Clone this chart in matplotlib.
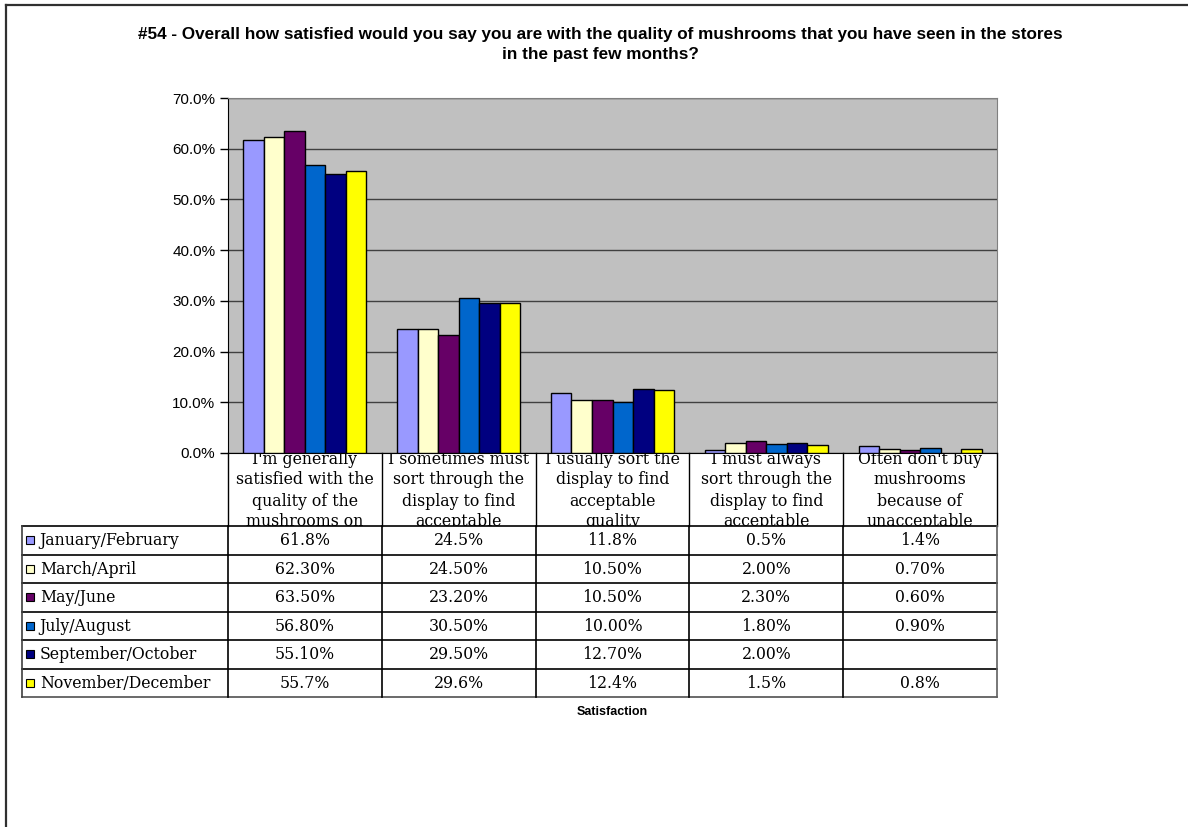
import numpy as np
import matplotlib
matplotlib.use('Agg')
from matplotlib import pyplot as plt
from matplotlib.lines import Line2D

# answer categories (only the part that fits in the header cells is shown)
categories = [
    ["I'm generally", "satisfied with the", "quality of the", "mushrooms on"],
    ["I sometimes must", "sort through the", "display to find", "acceptable"],
    ["I usually sort the", "display to find", "acceptable", "quality"],
    ["I must always", "sort through the", "display to find", "acceptable"],
    ["Often don't buy", "mushrooms", "because of", "unacceptable"],
]

periods = ["January/February", "March/April", "May/June",
           "July/August", "September/October", "November/December"]
colors = ["#9999FF", "#FFFFCC", "#660066", "#0066CC", "#000080", "#FFFF00"]

jan_feb = [61.8, 24.5, 11.8, 0.5, 1.4]
mar_apr = [62.3, 24.5, 10.5, 2.0, 0.7]
may_jun = [63.5, 23.2, 10.5, 2.3, 0.6]
jul_aug = [56.8, 30.5, 10.0, 1.8, 0.9]
sep_oct = [55.1, 29.5, 12.7, 2.0, np.nan]
nov_dec = [55.7, 29.6, 12.4, 1.5, 0.8]
decimals = [1, 2, 2, 2, 2, 1]

series = [jan_feb, mar_apr, may_jun, jul_aug, sep_oct, nov_dec]

W, H = 1188, 827
fig = plt.figure(figsize=(W / 100, H / 100), dpi=100)

serif = 'DejaVu Serif'
sans = 'Liberation Sans'
tab_fs = 11.3

# pixel layout
ax_l, ax_r, ax_t, ax_b = 228, 997, 98, 453
tab_l, head_b, tab_b = 22, 526, 697

def fx(px):
    return px / W

def fy(py):
    return 1 - py / H

# outer chart frame
fig.add_artist(Line2D([fx(6), fx(6)], [fy(5), 0], color='#303030', lw=1.6))
fig.add_artist(Line2D([fx(6), 1], [fy(5), fy(5)], color='#303030', lw=1.6))

fig.text(0.505, fy(34), "#54 - Overall how satisfied would you say you are with the quality of mushrooms that you have seen in the stores",
         ha='center', va='center', fontsize=12.3, fontweight='bold', family=sans)
fig.text(0.505, fy(54), "in the past few months?",
         ha='center', va='center', fontsize=12.3, fontweight='bold', family=sans)

# ---- bar chart ----
ax = fig.add_axes([fx(ax_l), fy(ax_b), fx(ax_r - ax_l), (ax_b - ax_t) / H])
ax.set_facecolor('#C0C0C0')
n = len(series)
x = np.arange(len(categories))
bw = 0.8 / n
for i, vals in enumerate(series):
    ax.bar(x - 0.4 + bw * (i + 0.5), vals, width=bw, color=colors[i],
           edgecolor='black', linewidth=1, zorder=3)

ax.set_xlim(-0.5, len(categories) - 0.5)
ax.set_ylim(0, 70)
ax.set_yticks(np.arange(0, 71, 10))
ax.set_yticklabels(['%.1f%%' % v for v in np.arange(0, 71, 10)], family=sans, fontsize=11)
ax.yaxis.grid(True, color='#404040', lw=1, zorder=1)
ax.set_xticks([])
ax.tick_params(axis='y', length=6, width=1, color='black', pad=3)
for s in ['top', 'right']:
    ax.spines[s].set_color('#808080')
ax.spines['left'].set_color('black')
ax.spines['bottom'].set_color('black')

# ---- category header row ----
hax = fig.add_axes([fx(ax_l), fy(head_b), fx(ax_r - ax_l), (head_b - ax_b) / H])
hax.set_xlim(-0.5, len(categories) - 0.5)
hax.set_ylim(head_b, ax_b)
hax.axis('off')
line_y = [459, 480, 501, 522]
for j, lines in enumerate(categories):
    for k, txt in enumerate(lines):
        hax.text(j, line_y[k], txt, ha='center', va='center', family=serif,
                 fontsize=tab_fs, clip_on=True)
for j in range(len(categories) + 1):
    hax.axvline(j - 0.5, color='black', lw=1, clip_on=False)

# ---- data table ----
lab_w = (ax_l - tab_l) / ((ax_r - ax_l) / len(categories))
tax = fig.add_axes([fx(tab_l), fy(tab_b), fx(ax_r - tab_l), (tab_b - head_b) / H])
tax.set_xlim(-0.5 - lab_w, len(categories) - 0.5)
tax.set_ylim(n, 0)
tax.axis('off')
for i in range(n + 1):
    tax.axhline(i, color='black' if i < n else '#505050', lw=1.2, clip_on=False)
tax.axvline(-0.5 - lab_w, color='#404040', lw=1.2, clip_on=False)
for j in range(len(categories) + 1):
    tax.axvline(j - 0.5, color='black' if j < len(categories) else '#606060',
                lw=1.2, clip_on=False)

key_x = -0.5 - lab_w + 0.055
for i, name in enumerate(periods):
    tax.plot(key_x, i + 0.5, marker='s', markersize=6, markerfacecolor=colors[i],
             markeredgecolor='black', markeredgewidth=0.8)
    tax.text(key_x + 0.06, i + 0.52, name, ha='left', va='center', family=serif,
             fontsize=tab_fs)
    for j, v in enumerate(series[i]):
        if np.isnan(v):
            continue
        tax.text(j, i + 0.52, '%.*f%%' % (decimals[i], v), ha='center', va='center',
                 family=serif, fontsize=tab_fs)

fig.text(fx((ax_l + ax_r) / 2), fy(712), 'Satisfaction', ha='center', va='center',
         family=sans, fontweight='bold', fontsize=9)

fig.savefig('out.png', dpi=100)
